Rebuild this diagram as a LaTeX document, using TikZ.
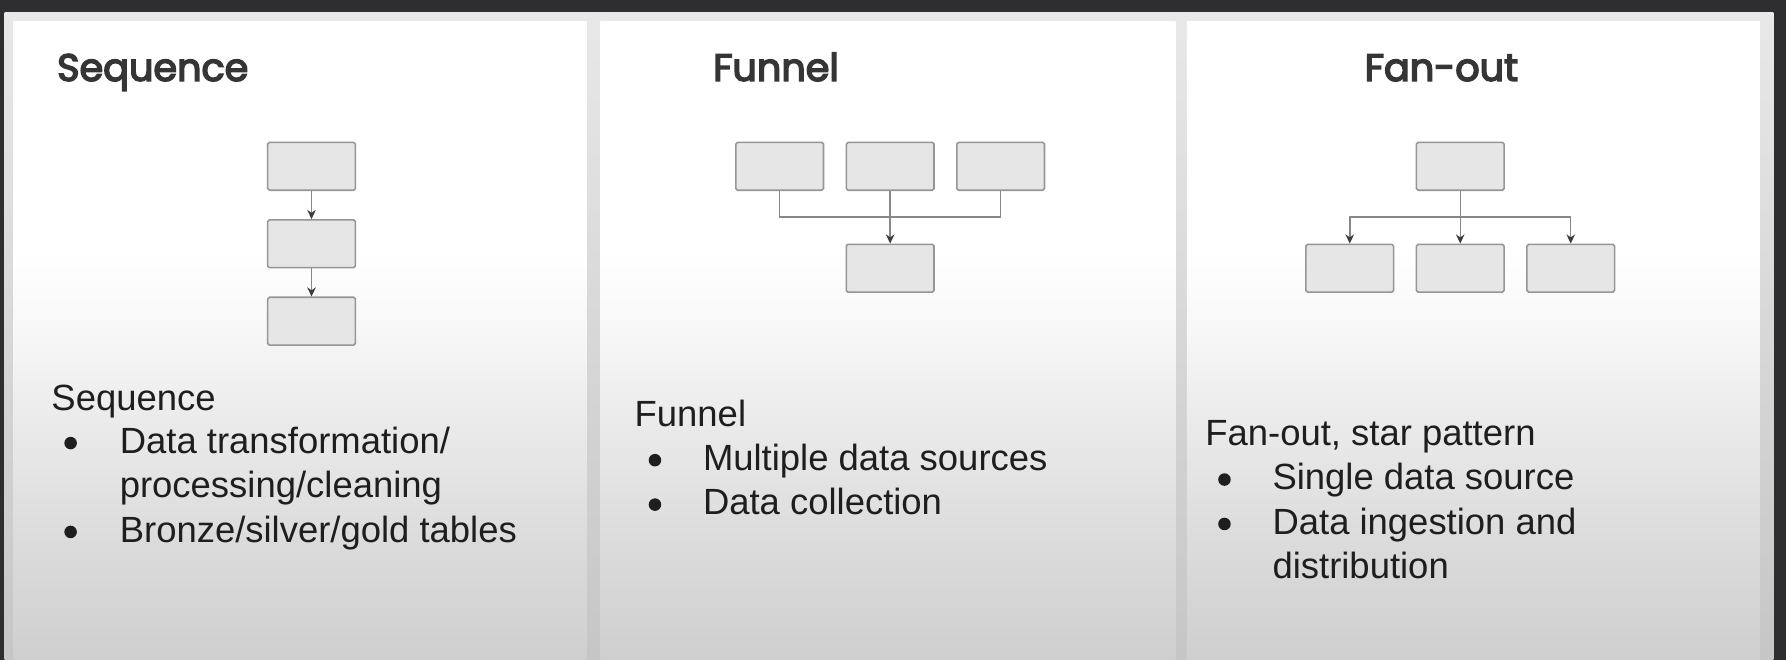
\documentclass[tikz,border=0pt]{standalone}
\usepackage{fontspec}
\setmainfont{Liberation Sans}
\newfontfamily\titlefont{Poppins}[FakeBold=4]
\usetikzlibrary{arrows.meta}
\definecolor{bgdark}{HTML}{2E2E31}
\definecolor{frametop}{HTML}{E8E8E8}
\definecolor{framebot}{HTML}{C6C6C6}
\definecolor{panelbot}{HTML}{CFCFCF}
\definecolor{boxfill}{HTML}{E6E6E6}
\definecolor{boxline}{HTML}{969696}
\definecolor{conline}{HTML}{888888}
\definecolor{tipcol}{HTML}{3C3C3C}
\definecolor{txt}{HTML}{1E1E1E}
\pgfdeclareverticalshading{panelshade}{100bp}{color(0bp)=(panelbot); color(25bp)=(panelbot); color(35bp)=(panelbot!72!white); color(45bp)=(panelbot!38!white); color(51bp)=(panelbot!15!white); color(57bp)=(white); color(100bp)=(white)}
\tikzset{
  panel/.style={shading=panelshade},
  pbox/.style={draw=boxline, fill=boxfill, line width=1.4pt, rounded corners=1.5pt,
    minimum width=77pt, minimum height=42pt, inner sep=0pt},
  con/.style={draw=conline, line width=1.3pt},
  arr/.style={con, -{Stealth[length=8pt,width=7.5pt,color=tipcol,fill=tipcol]}},
  ttl/.style={anchor=base west, inner sep=0pt, text=txt!90!white, font=\titlefont\fontsize{33.5}{38}\selectfont},
  body/.style={anchor=base west, inner sep=0pt, text=txt, font=\fontsize{32}{39}\selectfont},
  bul/.style={fill=txt}
}
\begin{document}
\begin{tikzpicture}[x=1pt,y=-1pt]
\useasboundingbox (0,0) rectangle (1568,579);
\fill[bgdark] (0,0) rectangle (1568,579);
\shade[top color=frametop, bottom color=framebot] (4,11) rectangle (1557,579);
\shade[panel] (12,19) rectangle (515,579);
\shade[panel] (527,19) rectangle (1032,579);
\shade[panel] (1042,19) rectangle (1545,579);

% titles
\node[ttl] (t1) at (50,71) {Sequence};
\node[ttl] (t2) at (626,71) {Funnel};
\node[ttl] (t3) at (1198,71) {Fan-out};

% Sequence diagram
\node[pbox] (s1) at (273.5,146) {};
\node[pbox] (s2) at (273.5,214) {};
\node[pbox] (s3) at (273.5,282) {};
\draw[arr] (s1.south) -- (s2.north);
\draw[arr] (s2.south) -- (s3.north);

% Funnel diagram
\node[pbox] (f1) at (684.5,146) {};
\node[pbox] (f2) at (781.5,146) {};
\node[pbox] (f3) at (878.5,146) {};
\node[pbox] (f4) at (781.5,235.5) {};
\path (f2.south) -- ++(0,23) coordinate (fhub);
\draw[con] (f1.south) |- (fhub);
\draw[con] (f3.south) |- (fhub);
\draw[arr] (f2.south) -- (f4.north);

% Fan-out diagram
\node[pbox] (g1) at (1282,146) {};
\node[pbox] (g2) at (1185,235.5) {};
\node[pbox] (g3) at (1282,235.5) {};
\node[pbox] (g4) at (1379,235.5) {};
\path (g1.south) -- ++(0,23) coordinate (ghub);
\draw[arr] (ghub) -| (g2.north);
\draw[arr] (ghub) -| (g4.north);
\draw[arr] (g1.south) -- (g3.north);

% Sequence text
\node[body] (a0) at (45,360) {Sequence};
\fill[bul] (62,389) circle (5.5);
\node[body] (a1) at (105,398) {Data transformation/};
\node[body] (a2) at (105,437) {processing/cleaning};
\fill[bul] (62,467) circle (5.5);
\node[body] (a3) at (105,476) {Bronze/silver/gold tables};

% Funnel text
\node[body] (b0) at (557,374) {Funnel};
\fill[bul] (575,404) circle (5.5);
\node[body] (b1) at (617,413) {Multiple data sources};
\fill[bul] (575,443) circle (5.5);
\node[body] (b2) at (617,452) {Data collection};

% Fan-out text
\node[body] (c0) at (1058,391) {Fan-out, star pattern};
\fill[bul] (1075,421) circle (5.5);
\node[body] (c1) at (1117,430) {Single data source};
\fill[bul] (1075,460) circle (5.5);
\node[body] (c2) at (1117,469) {Data ingestion and};
\node[body] (c3) at (1117,508) {distribution};
\end{tikzpicture}
\end{document}
